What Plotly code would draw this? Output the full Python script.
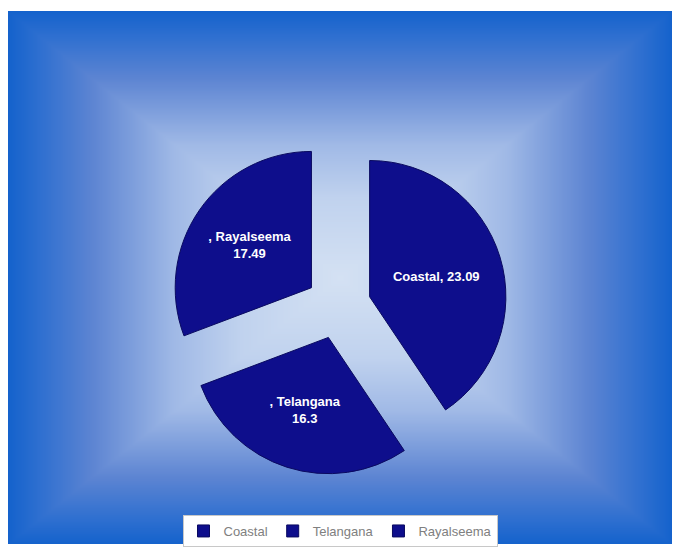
import numpy as np
import plotly.graph_objects as go

# ---- data ----
regions = ["Coastal", "Telangana", "Rayalseema"]
values = [23.09, 16.3, 17.49]
slice_labels = ["Coastal, 23.09", ", Telangana<br>16.3", ", Rayalseema<br>17.49"]

# ---- background: rectangular path gradient (styling only) ----
n = 241
g = np.linspace(-1, 1, n)
gx, gy = np.meshgrid(g, g)
t = np.maximum(np.abs(gx), np.abs(gy))
bg_scale = [
    [0.0, "rgb(212,225,243)"],
    [0.3, "rgb(192,210,238)"],
    [0.5, "rgb(160,185,230)"],
    [0.75, "rgb(92,132,210)"],
    [0.9, "rgb(48,112,208)"],
    [1.0, "rgb(20,98,204)"],
]

fig = go.Figure()
fig.add_trace(go.Heatmap(
    z=t, x=np.linspace(0, 1, n), y=np.linspace(0, 1, n),
    colorscale=bg_scale, showscale=False, zsmooth="best",
    hoverinfo="skip", showlegend=False,
))

fig.add_trace(go.Pie(
    labels=regions, values=values, text=slice_labels,
    textinfo="text", textposition="inside", insidetextorientation="horizontal",
    sort=False, direction="clockwise", rotation=0,
    pull=[0.24, 0.24, 0.24],
    marker=dict(colors=["#0E0E8C"] * 3, line=dict(color="#0a0a60", width=1)),
    insidetextfont=dict(color="white", size=13, weight="bold",
                        family="Liberation Sans, Arial, sans-serif"),
    domain=dict(x=[0.242, 0.753], y=[0.129, 0.763]),
    showlegend=True,
))

fig.update_layout(
    width=673, height=547,
    margin=dict(l=8, t=11, r=1, b=0),
    paper_bgcolor="white",
    plot_bgcolor="white",
    xaxis=dict(visible=False, range=[0, 1], domain=[0, 1], fixedrange=True),
    yaxis=dict(visible=False, range=[0, 1], domain=[0, 1], fixedrange=True),
    legend=dict(
        orientation="h", x=0.5, xanchor="center", y=0.054, yanchor="top",
        bgcolor="white", bordercolor="#c8c8c8", borderwidth=1,
        font=dict(color="#808080", size=13, family="Liberation Sans, Arial, sans-serif"),
        itemwidth=30,
    ),
    font=dict(family="Liberation Sans, Arial, sans-serif"),
)

fig.write_html("out.html")
